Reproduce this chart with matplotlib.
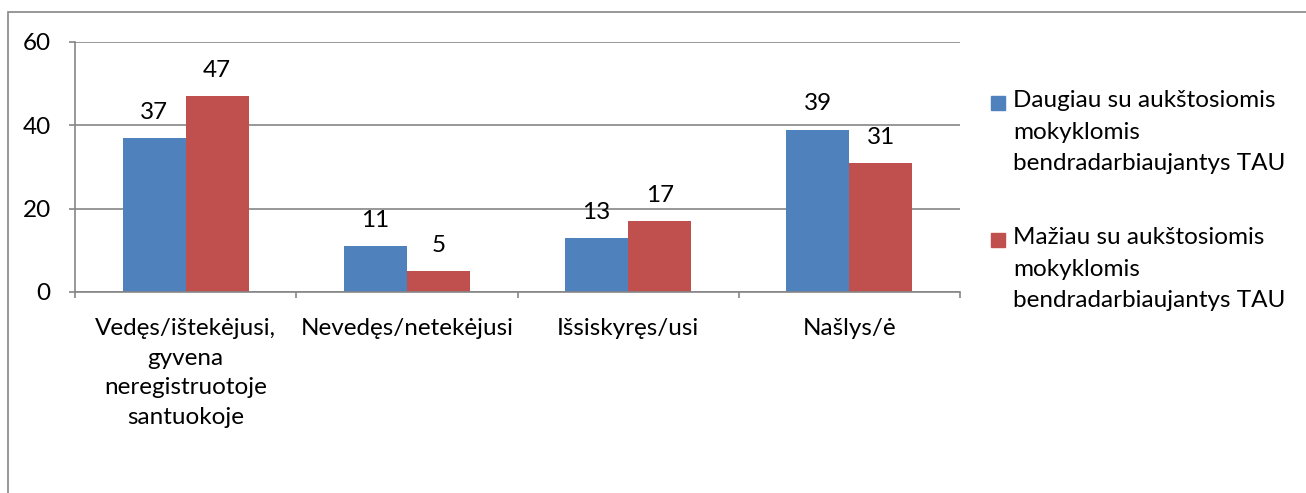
import matplotlib.pyplot as plt
from matplotlib.patches import Rectangle
import numpy as np

categories = ["Vedęs/ištekėjusi,\ngyvena\nneregistruotoje\nsantuokoje",
              "Nevedęs/netekėjusi", "Išsiskyręs/usi", "Našlys/ė"]
more_tau = [37, 11, 13, 39]
less_tau = [47, 5, 17, 31]
series_names = ["Daugiau su aukštosiomis\nmokyklomis\nbendradarbiaujantys TAU",
                "Mažiau su aukštosiomis\nmokyklomis\nbendradarbiaujantys TAU"]
colors = ["#4F81BD", "#C0504D"]
grey = "#868686"

plt.rcParams['font.family'] = ['Lato', 'DejaVu Sans']
fs = 17.5

W, H = 1306, 493
fig = plt.figure(figsize=(W / 100, H / 100), dpi=100)
ax = fig.add_axes([75 / W, 1 - 292 / H, 885 / W, 250 / H])

x = np.arange(len(categories))
w = 0.285
b1 = ax.bar(x - w / 2, more_tau, w, color=colors[0])
b2 = ax.bar(x + w / 2, less_tau, w, color=colors[1])
for bars in (b1, b2):
    ax.bar_label(bars, padding=11, fontsize=fs)

ax.set_xlim(-0.5, 3.5)
ax.set_ylim(0, 60)
ax.set_yticks([0, 20, 40, 60])
ax.yaxis.grid(True, color=grey, lw=1.2)
ax.set_axisbelow(True)
for s in ['top', 'right']:
    ax.spines[s].set_visible(False)
for s in ['left', 'bottom']:
    ax.spines[s].set_color(grey)
    ax.spines[s].set_linewidth(1.2)

ax.set_xticks(x)
ax.set_xticklabels(categories, fontsize=fs, linespacing=1.5)
ax.tick_params(axis='x', which='major', length=0, pad=19)
ax.set_xticks(np.arange(-0.5, 4, 1), minor=True)
ax.tick_params(axis='x', which='minor', length=4.5, color=grey, width=1.2)
ax.tick_params(axis='y', length=4.5, color=grey, width=1.2, labelsize=fs, pad=13)

# outer chart frame (bottom and right run off the image)
fig.add_artist(Rectangle((8 / W, -0.1), 1.2, 1.1 - 12 / H, transform=fig.transFigure,
                         fill=False, edgecolor=grey, lw=1.2))

# legend
for i, (name, c) in enumerate(zip(series_names, colors)):
    yc = [103, 240][i]
    fig.add_artist(Rectangle((991 / W, 1 - (yc + 7) / H), 14 / W, 14 / H,
                             transform=fig.transFigure, color=c))
    fig.text(1013 / W, 1 - (yc - 13) / H, name, fontsize=fs, va='top', ha='left',
             linespacing=1.62)

fig.savefig('out.png', dpi=100)
